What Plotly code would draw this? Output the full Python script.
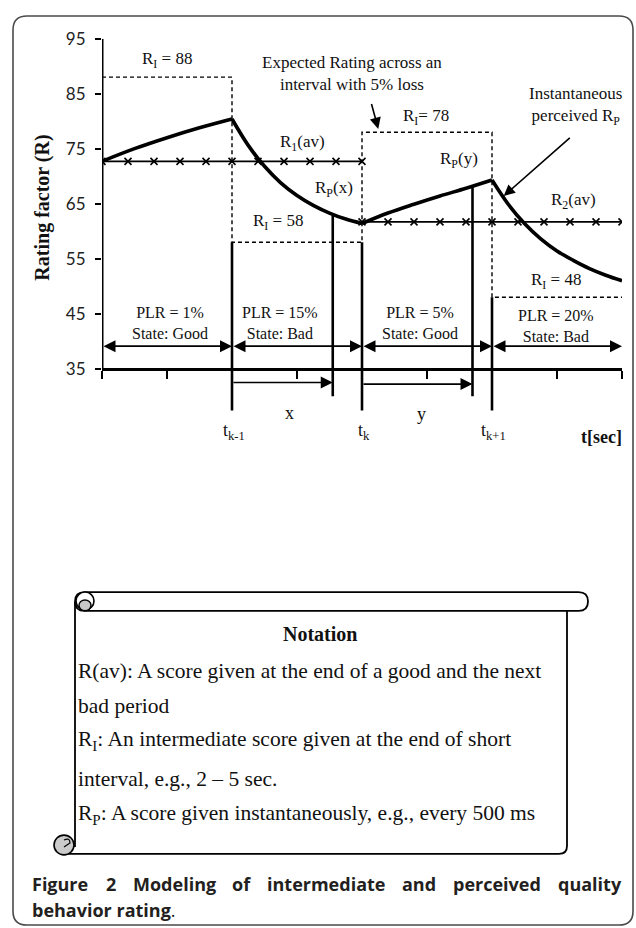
import plotly.graph_objects as go

W, H = 636, 928

# ---------------- data ----------------
bounds = [0, 2, 4, 6, 8]                 # interval boundaries (t_{k-1}, t_k, t_{k+1} inside)
ri_levels = [88, 58, 78, 48]             # intermediate ratings R_I per interval
plr_values = ["1%", "15%", "5%", "20%"]
plr_states = ["Good", "Bad", "Good", "Bad"]
plr_centers = [1.05, 2.74, 4.89, 6.98]
ravg_levels = [72.7, 61.7]               # R1(av), R2(av)
ravg1_t = [0, 0.4, 0.8, 1.2, 1.6, 2.0, 2.4, 2.8, 3.2, 3.6, 4.0]
ravg2_t = [4.0, 4.4, 4.8, 5.2, 5.6, 6.0, 6.4, 6.8, 7.2, 7.6, 8.0]
seg1_t = [0, 0.5, 1.0, 1.5, 2.0]
seg1_r = [72.7, 75.0, 77.0, 78.8, 80.4]
seg2_t = [2.0, 2.25, 2.5, 2.75, 3.0, 3.25, 3.5, 3.75, 4.0]
seg2_r = [80.4, 75.6, 71.8, 68.8, 66.5, 64.7, 63.3, 62.2, 61.4]
seg3_t = [4.0, 4.4, 4.8, 5.2, 5.6, 6.0]
seg3_r = [61.4, 63.3, 64.9, 66.4, 67.8, 69.3]
seg4_t = [6.0, 6.25, 6.5, 6.75, 7.0, 7.25, 7.5, 7.75, 8.0]
seg4_r = [69.3, 64.9, 61.4, 58.6, 56.4, 54.7, 53.2, 52.0, 51.0]
rp_t = [3.55, 5.7]                       # sample instants x and y
rp_r = [62.8, 68.3]
y_ticks = [35, 45, 55, 65, 75, 85, 95]
x_ticks = [0, 1, 2, 3, 4, 5, 6, 7, 8]
t_labels = ["t<sub>k-1</sub>", "t<sub>k</sub>", "t<sub>k+1</sub>"]
notation_lines = [
    "R(av): A score given at the end of a good and the next",
    "bad period",
    "R<sub>I</sub>: An intermediate score given at the end of short",
    "interval, e.g., 2 \u2013 5 sec.",
    "R<sub>P</sub>: A score given instantaneously, e.g., every 500 ms",
]
caption_words = ["Figure", "2", "Modeling", "of", "intermediate", "and", "perceived", "quality"]

# ---------------- helpers ----------------
def X(px):
    return px / W

def Y(py):
    return 1 - py / H

SERIF = "Liberation Serif"
TXT = "#111111"
Y_BOT = 20

fig = go.Figure()

# main perceived rating curve (four segments)
for st, sr in [(seg1_t, seg1_r), (seg2_t, seg2_r), (seg3_t, seg3_r), (seg4_t, seg4_r)]:
    fig.add_trace(go.Scatter(x=st, y=sr, mode="lines", line=dict(color="black", width=3.6, shape="spline"),
                             hoverinfo="skip", showlegend=False))

# average rating lines with x markers
for tt, lvl in [(ravg1_t, ravg_levels[0]), (ravg2_t, ravg_levels[1])]:
    fig.add_trace(go.Scatter(x=tt, y=[lvl] * len(tt), mode="lines+markers",
                             line=dict(color="black", width=1.8),
                             marker=dict(symbol="x-thin", size=7, line=dict(color="black", width=1.6)),
                             hoverinfo="skip", showlegend=False))

# dashed intermediate rating boxes (step line)
fig.add_trace(go.Scatter(x=bounds, y=ri_levels + [ri_levels[-1]], mode="lines",
                         line=dict(color="black", width=1.4, dash="4px,3px", shape="hv"),
                         hoverinfo="skip", showlegend=False))

# solid boundary verticals t_{k-1}, t_k, t_{k+1}
vx, vy = [], []
for i in range(1, 4):
    top = min(ri_levels[i - 1], ri_levels[i])
    vx += [bounds[i], bounds[i], None]
    vy += [top, 27.4, None]
# sample verticals Rp(x), Rp(y)
for t, r in zip(rp_t, rp_r):
    vx += [t, t, None]
    vy += [r, 30.0, None]
fig.add_trace(go.Scatter(x=vx, y=vy, mode="lines", line=dict(color="black", width=2.6),
                         hoverinfo="skip", showlegend=False))

# y axis line
fig.add_shape(type="line", xref="x", yref="y", x0=0, x1=0, y0=35, y1=95,
              line=dict(color="black", width=3))

ann = []

def text(x, y, t, size=17, xref="x", yref="y", bold=False, family=SERIF, xanchor="center", color=TXT):
    if bold:
        t = "<b>" + t + "</b>"
    ann.append(dict(x=x, y=y, xref=xref, yref=yref, text=t, showarrow=False,
                    xanchor=xanchor, yanchor="middle",
                    font=dict(family=family, size=size, color=color)))

def arrow(x, y, ax, ay, both=False, width=1.6, size=1.5):
    d = dict(x=x, y=y, ax=ax, ay=ay, xref="x", yref="y", axref="x", ayref="y",
             text="", showarrow=True, arrowhead=2, arrowsize=size, arrowwidth=width,
             arrowcolor="black", standoff=0, startstandoff=0)
    if both:
        d.update(arrowside="end+start", startarrowhead=2, startarrowsize=size)
    ann.append(d)

# PLR labels & double arrows
for i in range(4):
    text(plr_centers[i], 43.4 if i < 3 else 42.8,
         f"PLR = {plr_values[i]}<br>State: {plr_states[i]}", size=16)
    arrow(bounds[i + 1], 39.1, bounds[i], 39.1, both=True)

# x / y interval arrows
arrow(rp_t[0], 32.5, bounds[1], 32.5)
arrow(rp_t[1], 32.2, bounds[2], 32.2)
text(2.89, 26.9, "x", size=18)
text(4.92, 26.7, "y", size=18)

# time labels
for b, lab in zip(bounds[1:4], t_labels):
    text(b + 0.03, 23.5, lab, size=18)
text(7.68, 22.6, "t[sec]", size=18, bold=True)

# rating labels
text(1.0, 91.05, f"R<sub>I</sub> = {ri_levels[0]}")
text(2.71, 61.6, f"R<sub>I</sub> = {ri_levels[1]}")
text(4.98, 80.8, f"R<sub>I</sub>= {ri_levels[2]}")
text(6.98, 51.0, f"R<sub>I</sub> = {ri_levels[3]}")
text(3.09, 76.1, "R<sub>1</sub>(av)")
text(7.25, 65.4, "R<sub>2</sub>(av)")
text(3.57, 67.6, "R<sub>P</sub>(x)")
text(5.49, 72.9, "R<sub>P</sub>(y)")
text(3.85, 88.7, "Expected Rating across an<br>interval with 5% loss")
text(7.29, 82.8, "Instantaneous<br>perceived R<sub>P</sub>")
arrow(4.25, 78.6, 4.14, 83.4, width=1.6, size=1.4)
arrow(6.18, 66.4, 7.22, 77.2, width=1.6, size=1.4)

# y axis title
ann.append(dict(x=X(43), y=Y(199), xref="paper", yref="paper", text="<b>Rating factor (R)</b>",
                showarrow=False, textangle=-90, xanchor="center", yanchor="middle",
                font=dict(family=SERIF, size=20, color=TXT)))

# notation scroll text
text(X(320), Y(630), "Notation", size=20, xref="paper", yref="paper", bold=True)
for ln, py in zip(notation_lines, [668, 703, 738, 777, 813]):
    text(X(76), Y(py), ln, size=21.5, xref="paper", yref="paper", xanchor="left")

# caption (justified first line)
CAP = "Open Sans"
CAPC = "#231f20"
cap_starts = [31, 104.6, 131.9, 231.2, 266.3, 401.2, 451.9, 556.5]
for w, sx in zip(caption_words, cap_starts):
    text(X(sx - 1), Y(883), w, size=18, xref="paper", yref="paper", bold=True,
         family=CAP, xanchor="left", color=CAPC)
text(X(30), Y(910), "<b>behavior rating</b>.", size=18, xref="paper", yref="paper",
     family=CAP, xanchor="left", color=CAPC)

fig.update_layout(annotations=ann)

# ---------------- decorative shapes (paper px) ----------------
def rrect(x0, y0, x1, y1, r):
    return (f"M {X(x0 + r)},{Y(y0)} L {X(x1 - r)},{Y(y0)} Q {X(x1)},{Y(y0)} {X(x1)},{Y(y0 + r)} "
            f"L {X(x1)},{Y(y1 - r)} Q {X(x1)},{Y(y1)} {X(x1 - r)},{Y(y1)} "
            f"L {X(x0 + r)},{Y(y1)} Q {X(x0)},{Y(y1)} {X(x0)},{Y(y1 - r)} "
            f"L {X(x0)},{Y(y0 + r)} Q {X(x0)},{Y(y0)} {X(x0 + r)},{Y(y0)} Z")

shapes = []
shapes.append(dict(type="path", xref="paper", yref="paper", path=rrect(13, 5, 633, 925, 14),
                   line=dict(color="#4a4a4a", width=1.6)))
# scroll box sides
shapes.append(dict(type="path", xref="paper", yref="paper",
                   path=f"M {X(75)},{Y(598)} L {X(75)},{Y(846)}",
                   line=dict(color="black", width=1.8)))
shapes.append(dict(type="path", xref="paper", yref="paper",
                   path=(f"M {X(567)},{Y(607)} L {X(567)},{Y(845)} Q {X(567)},{Y(853)} {X(559)},{Y(853)} "
                         f"L {X(64)},{Y(853)}"),
                   line=dict(color="black", width=1.8)))
# scroll top bar
shapes.append(dict(type="path", xref="paper", yref="paper", path=rrect(75, 588, 588, 607, 9.5),
                   fillcolor="white", line=dict(color="black", width=1.8)))
# top-left curl
shapes.append(dict(type="circle", xref="paper", yref="paper", x0=X(76), x1=X(94), y0=Y(588), y1=Y(606),
                   fillcolor="white", line=dict(color="black", width=1.6)))
shapes.append(dict(type="circle", xref="paper", yref="paper", x0=X(79), x1=X(91), y0=Y(596), y1=Y(607),
                   fillcolor="#c8c8c8", line=dict(color="black", width=1.4)))
# bottom-left curl
shapes.append(dict(type="circle", xref="paper", yref="paper", x0=X(54), x1=X(74), y0=Y(834), y1=Y(854),
                   fillcolor="#cbcbcb", line=dict(color="black", width=1.6)))
shapes.append(dict(type="path", xref="paper", yref="paper",
                   path=f"M {X(64)},{Y(839)} Q {X(70)},{Y(836)} {X(70)},{Y(842)} L {X(64)},{Y(846)}",
                   line=dict(color="black", width=1.2)))
fig.update_layout(shapes=list(fig.layout.shapes) + shapes)

fig.update_layout(
    width=W, height=H,
    margin=dict(l=0, r=0, t=0, b=0),
    paper_bgcolor="white", plot_bgcolor="white",
    showlegend=False,
    xaxis=dict(domain=[X(102), X(622)], range=[0, 8], anchor="free", position=Y(362),
               showgrid=False, zeroline=False, showline=True, linecolor="black", linewidth=3,
               tickmode="array", tickvals=x_ticks, ticks="outside", ticklen=8, tickwidth=2,
               tickcolor="black", showticklabels=False, fixedrange=True),
    yaxis=dict(domain=[Y(28 + (95 - Y_BOT) * 334 / 60), Y(28)], range=[Y_BOT, 95],
               showgrid=False, zeroline=False, showline=False,
               tickmode="array", tickvals=y_ticks, ticks="outside", ticklen=6, tickwidth=2,
               tickcolor="black", ticklabelstandoff=6,
               tickfont=dict(family="Lato", size=17, color="#222222"), fixedrange=True),
)

fig.write_html("out.html", config={"displayModeBar": False},
               post_script="document.body.style.margin='0';document.body.style.overflow='hidden';")
